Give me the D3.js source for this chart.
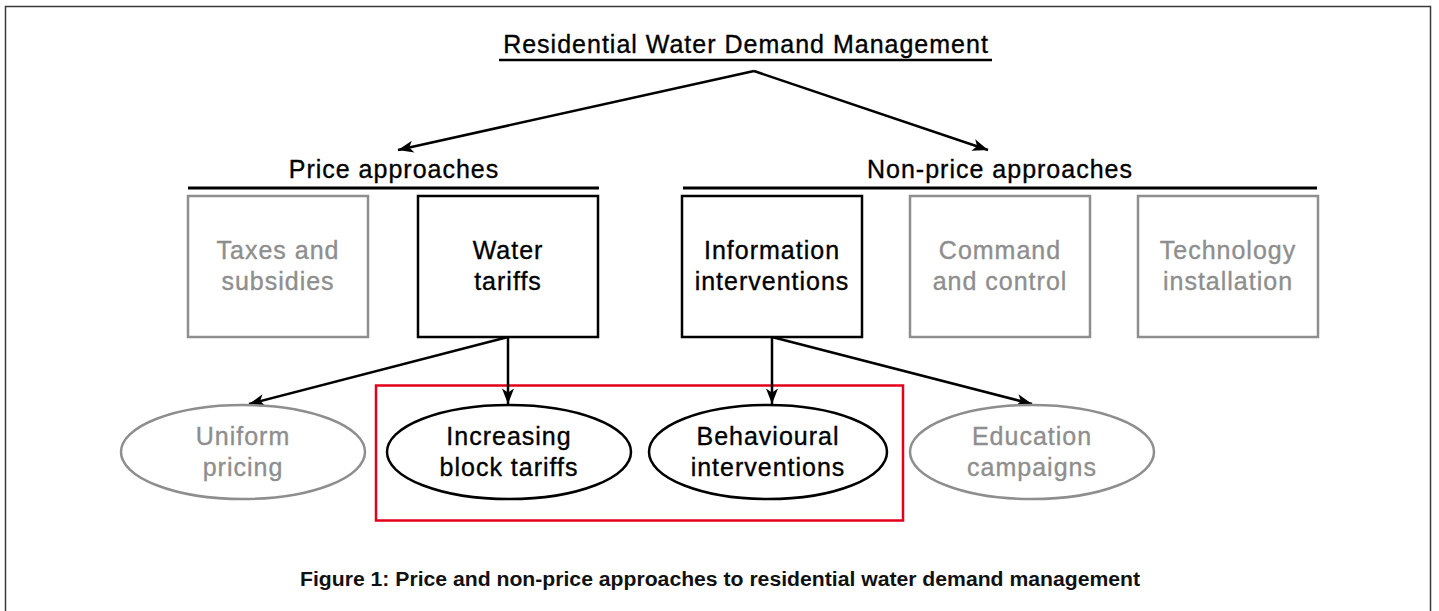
<!DOCTYPE html>
<html>
<head>
<meta charset="utf-8">
<script src="https://cdn.jsdelivr.net/npm/d3@7"></script>
<style>
  html, body { margin: 0; padding: 0; background: #fff; }
  svg { display: block; }
  text { font-family: "Helvetica Neue", Helvetica, "Liberation Sans", Arial, sans-serif; }
  .label { letter-spacing: 1px; stroke-width: 0.35px; paint-order: stroke; }
</style>
</head>
<body>
<div id="chart"></div>
<script>
// Diagram content
var title = "Residential Water Demand Management";
var approaches = ["Price approaches", "Non-price approaches"];
var instruments = [
  ["Taxes and", "subsidies"],
  ["Water", "tariffs"],
  ["Information", "interventions"],
  ["Command", "and control"],
  ["Technology", "installation"]
];
var instrumentGroup = [0, 0, 1, 1, 1];
var instrumentFocus = [false, true, true, false, false];
var subtypes = [
  ["Uniform", "pricing"],
  ["Increasing", "block tariffs"],
  ["Behavioural", "interventions"],
  ["Education", "campaigns"]
];
var subtypeParent = [1, 1, 2, 2];
var subtypeFocus = [false, true, true, false];
var caption = "Figure 1: Price and non-price approaches to residential water demand management";

// Layout (pixel geometry of the figure)
var W = 1439, H = 611;
var BLACK = "#000", GREY = "#8e8e8e", RED = "#e2001a";
var boxLeft = [188, 418, 682, 910, 1138];
var boxW = 180, boxTop = 196, boxH = 141;
var ellCx = [243, 509, 768, 1032];
var ellRx = [122, 122, 119, 122];
var ellCy = 452, ellRy = 47;
var groupSpan = [[188, 599], [683, 1317]];
var groupLabelX = [394, 1000];

var svg = d3.select("#chart").append("svg")
  .attr("width", W)
  .attr("height", H);

var defs = svg.append("defs");
defs.append("marker")
  .attr("id", "arrow")
  .attr("markerUnits", "userSpaceOnUse")
  .attr("markerWidth", 18)
  .attr("markerHeight", 14)
  .attr("viewBox", "0 0 18 14")
  .attr("refX", 16)
  .attr("refY", 7)
  .attr("orient", "auto")
  .append("path")
  .attr("d", "M0.5,1 L16,7 L0.5,13 L4.5,7 Z")
  .attr("fill", BLACK);

// Outer frame (open at the bottom edge of the window)
svg.append("rect")
  .attr("x", 5.5).attr("y", 6.5)
  .attr("width", 1425).attr("height", 700)
  .attr("fill", "none")
  .attr("stroke", "#3a3a3a")
  .attr("stroke-width", 1.5);

// Title and its underline
svg.append("text")
  .attr("class", "label")
  .attr("x", 746).attr("y", 53)
  .attr("text-anchor", "middle")
  .attr("font-size", 25)
  .attr("fill", BLACK).attr("stroke", BLACK)
  .text(title);

svg.append("line")
  .attr("x1", 499).attr("x2", 992)
  .attr("y1", 60).attr("y2", 60)
  .attr("stroke", BLACK).attr("stroke-width", 2.5);

// Arrows from title to the two groups
var apex = [754, 71];
var groupTips = [[398, 150], [988, 150]];
svg.selectAll(".top-arrow")
  .data(groupTips)
  .enter().append("line")
  .attr("class", "top-arrow")
  .attr("x1", apex[0]).attr("y1", apex[1])
  .attr("x2", function(d) { return d[0]; })
  .attr("y2", function(d) { return d[1]; })
  .attr("stroke", BLACK).attr("stroke-width", 2.5)
  .attr("marker-end", "url(#arrow)");

// Group headers
svg.selectAll(".group-label")
  .data(approaches)
  .enter().append("text")
  .attr("class", "group-label label")
  .attr("x", function(d, i) { return groupLabelX[i]; })
  .attr("y", 178)
  .attr("text-anchor", "middle")
  .attr("font-size", 25)
  .attr("fill", BLACK).attr("stroke", BLACK)
  .text(function(d) { return d; });

svg.selectAll(".group-rule")
  .data(groupSpan)
  .enter().append("line")
  .attr("class", "group-rule")
  .attr("x1", function(d) { return d[0]; })
  .attr("x2", function(d) { return d[1]; })
  .attr("y1", 188).attr("y2", 188)
  .attr("stroke", BLACK).attr("stroke-width", 3);

// Highlight rectangle around the studied instruments
svg.append("rect")
  .attr("x", 376).attr("y", 385.5)
  .attr("width", 527).attr("height", 135)
  .attr("fill", "none")
  .attr("stroke", RED).attr("stroke-width", 2.5);

// Links from instruments to subtypes
svg.selectAll(".link")
  .data(subtypes)
  .enter().append("line")
  .attr("class", "link")
  .attr("x1", function(d, i) { return boxLeft[subtypeParent[i]] + boxW / 2; })
  .attr("y1", boxTop + boxH)
  .attr("x2", function(d, i) {
    var px = boxLeft[subtypeParent[i]] + boxW / 2;
    return Math.abs(ellCx[i] - px) < 10 ? px : ellCx[i] + (ellCx[i] < px ? 6 : 0);
  })
  .attr("y2", ellCy - ellRy - 1)
  .attr("stroke", BLACK).attr("stroke-width", 2.5)
  .attr("marker-end", "url(#arrow)");

// Instrument boxes
var box = svg.selectAll(".box")
  .data(instruments)
  .enter().append("g")
  .attr("class", "box")
  .attr("transform", function(d, i) { return "translate(" + boxLeft[i] + "," + boxTop + ")"; });

box.append("rect")
  .attr("width", boxW).attr("height", boxH)
  .attr("fill", "#fff")
  .attr("stroke", function(d, i) { return instrumentFocus[i] ? BLACK : GREY; })
  .attr("stroke-width", 2.5);

box.append("text")
  .attr("class", "label")
  .attr("text-anchor", "middle")
  .attr("font-size", 25)
  .attr("fill", function(d, i) { return instrumentFocus[i] ? BLACK : GREY; })
  .attr("stroke", function(d, i) { return instrumentFocus[i] ? BLACK : GREY; })
  .selectAll("tspan")
  .data(function(d) { return d; })
  .enter().append("tspan")
  .attr("x", boxW / 2)
  .attr("y", function(d, j) { return boxH / 2 - 7.5 + j * 31; })
  .text(function(d) { return d; });

// Subtype ellipses
var ell = svg.selectAll(".ell")
  .data(subtypes)
  .enter().append("g")
  .attr("class", "ell")
  .attr("transform", function(d, i) { return "translate(" + ellCx[i] + "," + ellCy + ")"; });

ell.append("ellipse")
  .attr("rx", function(d, i) { return ellRx[i]; })
  .attr("ry", ellRy)
  .attr("fill", "#fff")
  .attr("stroke", function(d, i) { return subtypeFocus[i] ? BLACK : GREY; })
  .attr("stroke-width", 2.5);

ell.append("text")
  .attr("class", "label")
  .attr("text-anchor", "middle")
  .attr("font-size", 25)
  .attr("fill", function(d, i) { return subtypeFocus[i] ? BLACK : GREY; })
  .attr("stroke", function(d, i) { return subtypeFocus[i] ? BLACK : GREY; })
  .selectAll("tspan")
  .data(function(d) { return d; })
  .enter().append("tspan")
  .attr("x", 0)
  .attr("y", function(d, j) { return -7 + j * 31; })
  .text(function(d) { return d; });

// Caption
svg.append("text")
  .attr("x", 300).attr("y", 586)
  .attr("font-size", 19.5)
  .attr("font-weight", "bold")
  .attr("textLength", 840)
  .attr("lengthAdjust", "spacingAndGlyphs")
  .attr("fill", "#111")
  .text(caption);
</script>
</body>
</html>
